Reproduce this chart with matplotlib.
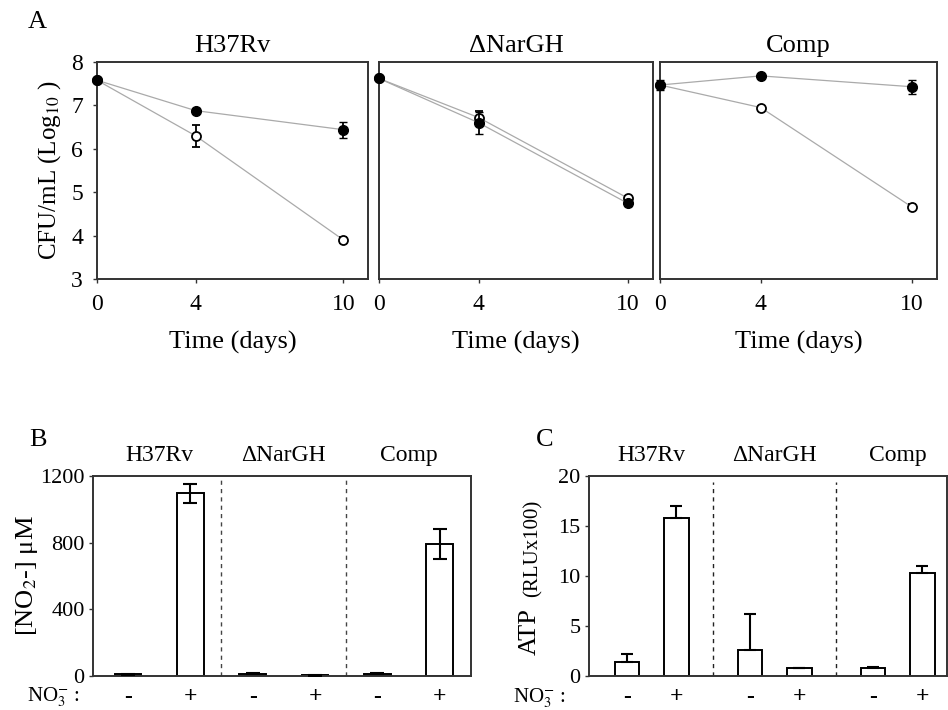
import matplotlib.pyplot as plt
import numpy as np

plt.rcParams['font.family'] = ['Liberation Serif', 'DejaVu Serif']
plt.rcParams['mathtext.fontset'] = 'stix'

W, H = 948, 710

# panel A: CFU over time
days = [0, 4, 10]
strains = ["H37Rv", "\u0394NarGH", "Comp"]
cfu_no3 = [[7.58, 6.88, 6.44], [7.62, 6.60, 4.74], [7.47, 7.68, 7.43]]
cfu_no3_err = [[0.05, 0.05, 0.18], [0.03, 0.25, 0.05], [0.12, 0.04, 0.16]]
cfu_ctrl = [[7.58, 6.30, 3.90], [7.62, 6.72, 4.86], [7.47, 6.95, 4.66]]
cfu_ctrl_err = [[0.03, 0.25, 0.06], [0.03, 0.16, 0.05], [0.05, 0.03, 0.06]]

# panel B: nitrite
no3_signs = ["-", "+", "-", "+", "-", "+"]
nitrite = [10, 1095, 15, 5, 15, 790]
nitrite_err = [4, 55, 5, 3, 5, 90]

# panel C: ATP
atp = [1.4, 15.8, 2.6, 0.8, 0.85, 10.3]
atp_err = [0.8, 1.2, 3.6, 0.05, 0.05, 0.7]


def px_axes(fig, x0, y0, x1, y1):
    return fig.add_axes([x0 / W, 1 - y1 / H, (x1 - x0) / W, (y1 - y0) / H])


def style(ax):
    for s in ax.spines.values():
        s.set_linewidth(1.4)
        s.set_color('#333333')
    ax.tick_params(labelsize=15, length=3, width=1, color='#333333')


fig = plt.figure(figsize=(W / 100, H / 100), dpi=100)

# ---- A ----
boxes = [(97, 62, 368, 279), (379, 62, 653, 279), (660, 62, 937, 279)]
for i, b in enumerate(boxes):
    ax = px_axes(fig, *b)
    style(ax)
    ax.plot(days, cfu_ctrl[i], color='#aaaaaa', lw=0.9, zorder=1, clip_on=False)
    ax.plot(days, cfu_no3[i], color='#aaaaaa', lw=0.9, zorder=1, clip_on=False)
    ax.errorbar(days, cfu_ctrl[i], yerr=cfu_ctrl_err[i], fmt='o', mfc='white', mec='black',
                mew=1.3, ms=6.5, ecolor='black', elinewidth=1.3, capsize=3, zorder=3, clip_on=False)
    ax.errorbar(days, cfu_no3[i], yerr=cfu_no3_err[i], fmt='o', mfc='black', mec='black',
                ms=7, ecolor='black', elinewidth=1.3, capsize=3, zorder=4, clip_on=False)
    ax.set_xlim(0, 11)
    ax.set_ylim(3, 8)
    ax.set_xticks(days)
    ax.tick_params(axis='x', labelsize=17, pad=8)
    ax.set_xlabel("Time (days)", fontsize=19, labelpad=11)
    ax.set_title(strains[i], fontsize=19, pad=7)
    if i == 0:
        ax.set_yticks([3, 4, 5, 6, 7, 8])
        ax.tick_params(axis='y', labelsize=17, pad=7)
        ax.set_ylabel(r"CFU/mL (Log$_{10}$ )", fontsize=18, labelpad=6)
    else:
        ax.set_yticks([])

fig.text(37 / W, 1 - 22 / H, "A", fontsize=19, ha='center', va='center')

# ---- B ----
axb = px_axes(fig, 93, 476, 471, 676)
style(axb)
xb = np.arange(6)
axb.bar(xb, nitrite, width=0.43, color='white', edgecolor='black', linewidth=1.4, zorder=2)
axb.errorbar(xb, nitrite, yerr=nitrite_err, fmt='none', ecolor='black', elinewidth=1.5,
             capsize=5, capthick=1.5, zorder=3)
for d in [1.5, 3.5]:
    axb.axvline(d, color='#444444', ls='--', lw=1.0, dashes=(3, 3))
axb.set_xlim(-0.56, 5.5)
axb.set_ylim(0, 1200)
axb.set_yticks([0, 400, 800, 1200])
axb.set_xticks([])
axb.tick_params(axis='y', labelsize=16, pad=3)
axb.set_ylabel(r"[NO$_2$-] $\mathregular{\mu}$M", fontsize=19, labelpad=0)
for g in range(3):
    axb.text(2 * g + 0.5, 1.05, strains[g], transform=axb.get_xaxis_transform(),
             ha='center', va='bottom', fontsize=17)
for x, s in zip(xb, no3_signs):
    axb.text(x, -0.105, s, transform=axb.get_xaxis_transform(), ha='center', va='center',
             fontsize=17, fontweight='bold')
axb.text(-0.035, -0.105, r"NO$_3^{-}$ :", transform=axb.transAxes, ha='right', va='center', fontsize=15)
fig.text(38 / W, 1 - 440 / H, "B", fontsize=19, ha='center', va='center')

# ---- C ----
axc = px_axes(fig, 589, 476, 947, 676)
style(axc)
xc = np.array([-0.2, 0.2, 0.8, 1.2, 1.8, 2.2])
axc.bar(xc, atp, width=0.2, color='white', edgecolor='black', linewidth=1.4, zorder=2)
axc.errorbar(xc, atp, yerr=[np.zeros(6), atp_err], fmt='none', ecolor='black', elinewidth=1.5,
             capsize=4, capthick=1.5, zorder=3)
for d in [0.5, 1.5]:
    axc.axvline(d, ymax=0.97, color='#222222', ls='--', lw=1.0, dashes=(3, 3))
axc.set_xlim(-0.51, 2.4)
axc.set_ylim(0, 20)
axc.set_yticks([0, 5, 10, 15, 20])
axc.set_xticks([])
axc.tick_params(axis='y', labelsize=16, pad=3)
for g in range(3):
    axc.text(g, 1.05, strains[g], transform=axc.get_xaxis_transform(),
             ha='center', va='bottom', fontsize=17)
for x, s in zip(xc, no3_signs):
    axc.text(x, -0.105, s, transform=axc.get_xaxis_transform(), ha='center', va='center',
             fontsize=17, fontweight='bold')
axc.text(-0.065, -0.11, r"NO$_3^{-}$ :", transform=axc.transAxes, ha='right', va='center', fontsize=15)
fig.text(530 / W, 1 - 632 / H, "ATP", fontsize=19, rotation=90, ha='center', va='center')
fig.text(533 / W, 1 - 548 / H, "(RLUx100)", fontsize=15, rotation=90, ha='center', va='center')
fig.text(545 / W, 1 - 440 / H, "C", fontsize=19, ha='center', va='center')

fig.savefig("out.png", dpi=100)
